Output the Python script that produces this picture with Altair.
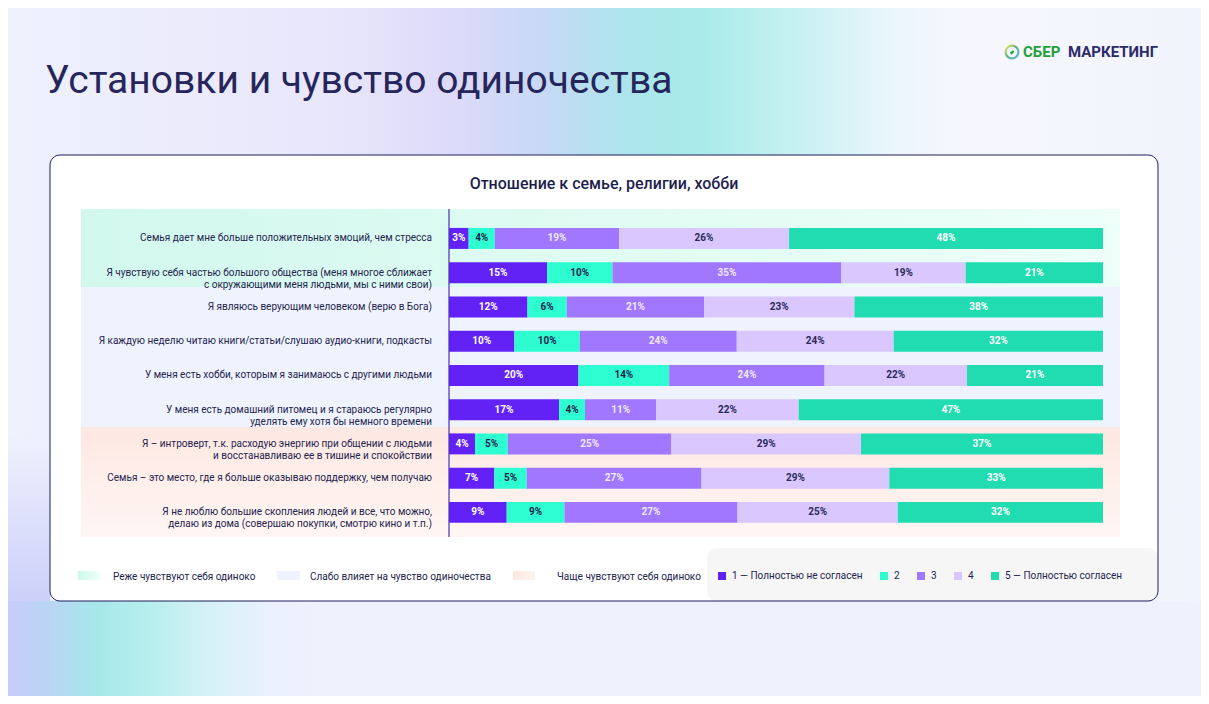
import altair as alt
import pandas as pd

# ---------------- data ----------------
QUESTIONS = [
    "Семья дает мне больше положительных эмоций, чем стресса",
    "Я чувствую себя частью большого общества (меня многое сближает\nс окружающими меня людьми, мы с ними свои)",
    "Я являюсь верующим человеком (верю в Бога)",
    "Я каждую неделю читаю книги/статьи/слушаю аудио-книги, подкасты",
    "У меня есть хобби, которым я занимаюсь с другими людьми",
    "У меня есть домашний питомец и я стараюсь регулярно\nуделять ему хотя бы немного времени",
    "Я – интроверт, т.к. расходую энергию при общении с людьми\nи восстанавливаю ее в тишине и спокойствии",
    "Семья – это место, где я больше оказываю поддержку, чем получаю",
    "Я не люблю большие скопления людей и все, что можно,\nделаю из дома (совершаю покупки, смотрю кино и т.п.)",
]
RATINGS = ["1 — Полностью не согласен", "2", "3", "4", "5 — Полностью согласен"]
R1 = [3, 15, 12, 10, 20, 17, 4, 7, 9]
R2 = [4, 10, 6, 10, 14, 4, 5, 5, 9]
R3 = [19, 35, 21, 24, 24, 11, 25, 27, 27]
R4 = [26, 19, 23, 24, 22, 22, 29, 29, 25]
R5 = [48, 21, 38, 32, 21, 47, 37, 33, 32]
GROUPS = ["Реже чувствуют себя одиноко", "Слабо влияет на чувство одиночества", "Чаще чувствуют себя одиноко"]
TITLE = "Установки и чувство одиночества"
SUBTITLE = "Отношение к семье, религии, хобби"

# ---------------- style ----------------
COLORS = ["#6322f5", "#2dfdd0", "#a077fe", "#d9c7fe", "#22dcb1"]
TEXT_COLORS = ["#ffffff", "#1e1e50", "#efe8ff", "#2a2a5c", "#ffffff"]
INK = "#24244f"
FONT = "Roboto"
W, H = 1193, 688

rows = []
for qi, q in enumerate(QUESTIONS):
    for ri, series in enumerate([R1, R2, R3, R4, R5]):
        rows.append({"question": q, "rating": RATINGS[ri], "idx": ri + 1, "value": series[qi]})
df = pd.DataFrame(rows)
qdf = pd.DataFrame({"question": QUESTIONS})

dummy = alt.Chart(pd.DataFrame({"d": [0]}))


def grad(stops, x2=1, y2=0):
    return alt.LinearGradient(
        gradient="linear",
        stops=[alt.GradientStop(color=c, offset=o) for o, c in stops],
        x1=0, y1=0, x2=x2, y2=y2,
    )


def box(x, x2, y, y2, **mk):
    return dummy.mark_rect(**mk).encode(
        x=alt.value(x), x2=alt.value(x2), y=alt.value(y), y2=alt.value(y2)
    )


def label(txt, x, y, **mk):
    return dummy.mark_text(text=txt, **mk).encode(x=alt.value(x), y=alt.value(y))


# background
bg = box(0, W, 0, H, fill="#eef1fc")
bg_top = box(0, W, 0, 593, fill=grad([
    (0.0, "#eff1fd"), (0.28, "#e8e6fb"), (0.37, "#dedafa"), (0.45, "#c6d9f5"),
    (0.52, "#ace5ec"), (0.58, "#a8ebe9"), (0.66, "#c7f1f1"), (0.74, "#eaf5fc"),
    (0.80, "#f6f7fe"), (1.0, "#f2f4fd")]))
bg_bot = box(0, W, 593, H, fill=grad([
    (0.0, "#c8cbfa"), (0.035, "#b9d5f4"), (0.075, "#a7e8ea"), (0.12, "#b8eeee"),
    (0.17, "#d6f2f6"), (0.22, "#eaf1fc"), (0.28, "#eef2fd"), (1.0, "#eef2fd")]))
bg_left = box(0, 42, 430, 593, fill=grad([(0.0, "#eef1fc"), (1.0, "#ccd0fa")], x2=0, y2=1))

# card
card = box(42, 1150, 147, 593, fill="white", cornerRadius=10)
legend_box = box(699, 1150, 540, 593, fill="#f6f6f7", cornerRadius=10)
card_border = box(42, 1150, 147, 593, fill=None, filled=False, stroke="#1f1e5a",
                  strokeWidth=1, cornerRadius=10)

# row group bands
band_teal = box(73, 1112, 201, 279, fill=grad([(0.0, "#d2f8ed"), (1.0, "#eefff9")]))
band_blue = box(73, 1112, 279, 419, fill="#eff3fd")
band_peach = box(73, 1112, 419, 529, fill=grad([(0.0, "#fde8e2"), (1.0, "#fff6f3")], x2=0, y2=1))
axis_line = dummy.mark_rule(color="#4a2fb8", strokeWidth=1.2).encode(
    x=alt.value(441), y=alt.value(201), y2=alt.value(529))

# scales
xscale = alt.Scale(domain=[0, 1], range=[441, 1095], nice=False, zero=False)
yscale = alt.Scale(domain=QUESTIONS, range=[213.3, 521.5], paddingInner=0.387, paddingOuter=0.1935)

stacked = alt.Chart(df).transform_stack(
    stack="value", groupby=["question"], as_=["v0", "v1"], offset="normalize",
    sort=[alt.SortField("idx", order="ascending")],
)

bars = stacked.mark_bar().encode(
    x=alt.X("v0:Q", scale=xscale, axis=None),
    x2="v1:Q",
    y=alt.Y("question:N", scale=yscale, axis=None),
    color=alt.Color(
        "rating:N",
        scale=alt.Scale(domain=RATINGS, range=COLORS),
        legend=alt.Legend(
            orient="none", legendX=709, legendY=563, direction="horizontal", title=None,
            symbolType="square", symbolSize=64, symbolStrokeWidth=0, symbolOpacity=1,
            labelFontSize=10, labelFont=FONT, labelColor=INK, columnPadding=16,
            labelOffset=5, padding=0,
        ),
    ),
)

bar_text = stacked.transform_calculate(
    mid="(datum.v0 + datum.v1) / 2", lbl="datum.value + '%'"
).mark_text(font=FONT, fontSize=10, fontWeight="bold", baseline="middle").encode(
    x=alt.X("mid:Q", scale=xscale, axis=None),
    y=alt.Y("question:N", scale=yscale, axis=None),
    text="lbl:N",
    color=alt.Color("rating:N", scale=alt.Scale(domain=RATINGS, range=TEXT_COLORS), legend=None),
)

row_labels = alt.Chart(qdf).mark_text(
    align="right", baseline="middle", lineBreak="\n", lineHeight=12,
    font=FONT, fontSize=10, color=INK,
).encode(
    x=alt.value(424),
    y=alt.Y("question:N", scale=yscale, axis=None),
    text="question:N",
)

# titles
title = label(TITLE, 37, 85, font=FONT, fontSize=39, fontWeight="normal", color="#26265a",
              align="left", baseline="alphabetic")
subtitle = label(SUBTITLE, 596, 176, font=FONT, fontSize=16, fontWeight=500, color="#1f1f4f",
                 align="center", baseline="middle")

# logo
logo_ring = dummy.mark_point(shape="circle", filled=False, size=165, strokeWidth=2.2,
                             stroke=grad([(0.0, "#f2e52c"), (0.45, "#21a038"), (1.0, "#1e9be8")], x2=1, y2=1)
                             ).encode(x=alt.value(1004), y=alt.value(44))
logo_check = dummy.mark_point(shape="M-0.45,0 L-0.1,0.35 L0.5,-0.35", filled=False, size=45,
                              strokeWidth=2, stroke="#21a038", opacity=1
                              ).encode(x=alt.value(1004), y=alt.value(44))
logo_a = label("СБЕР", 1015, 44, font=FONT, fontSize=15, fontWeight="bold", color="#21a038",
               align="left", baseline="middle")
logo_b = label("МАРКЕТИНГ", 1150, 44, font=FONT, fontSize=15, fontWeight="bold", color="#2b2a6b",
               align="right", baseline="middle")

# group legend
sw1 = box(70, 92, 563, 572, fill=grad([(0.0, "#cbf9ec"), (1.0, "#eefff8")]))
sw2 = box(269, 292, 563, 572, fill="#eef3fd")
sw3 = box(505, 527, 563, 572, fill=grad([(0.0, "#fde7e1"), (1.0, "#fff3ef")]))
gl1 = label(GROUPS[0], 105, 569, font=FONT, fontSize=10, color=INK, align="left", baseline="middle")
gl2 = label(GROUPS[1], 302, 569, font=FONT, fontSize=10, color=INK, align="left", baseline="middle")
gl3 = label(GROUPS[2], 549, 569, font=FONT, fontSize=10, color=INK, align="left", baseline="middle")

chart = alt.layer(
    bg, bg_top, bg_bot, bg_left, card, legend_box,
    band_teal, band_blue, band_peach,
    bars, bar_text, row_labels, axis_line,
    card_border, title, subtitle, logo_ring, logo_check, logo_a, logo_b,
    sw1, sw2, sw3, gl1, gl2, gl3,
).resolve_scale(color="independent").properties(
    width=W, height=H, padding=0, autosize=alt.AutoSizeParams(type="none"),
).configure_view(stroke=None).configure(background="white")

chart.save("out.html", embed_options={"renderer": "svg", "actions": False})
